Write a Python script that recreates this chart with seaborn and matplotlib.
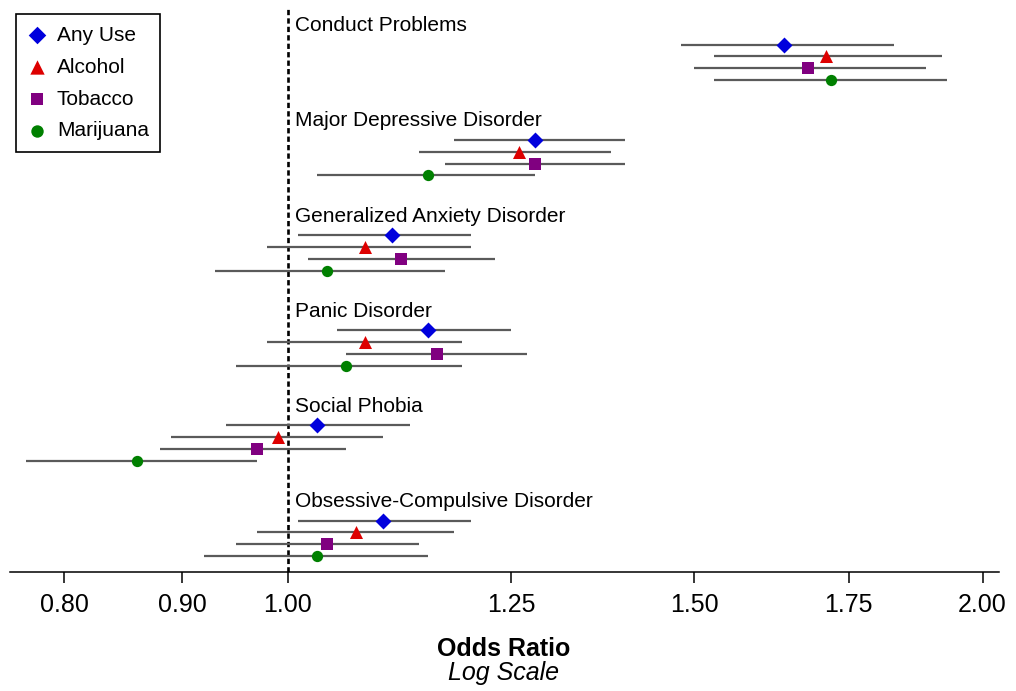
import pandas as pd
import numpy as np
import matplotlib
matplotlib.use('Agg')
import matplotlib.pyplot as plt
import seaborn as sns
from matplotlib.ticker import FixedLocator, FixedFormatter, NullLocator

# --------- Datos
disorders = ['Conduct Problems', 'Major Depressive Disorder', 'Generalized Anxiety Disorder',
             'Panic Disorder', 'Social Phobia', 'Obsessive-Compulsive Disorder']
substances = ['Any Use', 'Alcohol', 'Tobacco', 'Marijuana']

# odds ratio + IC 95% (mismo orden que disorders)
or_any = [1.64, 1.28, 1.11, 1.15, 1.03, 1.10]
lo_any = [1.48, 1.18, 1.01, 1.05, 0.94, 1.01]
hi_any = [1.83, 1.40, 1.20, 1.25, 1.13, 1.20]

or_alc = [1.71, 1.26, 1.08, 1.08, 0.99, 1.07]
lo_alc = [1.53, 1.14, 0.98, 0.98, 0.89, 0.97]
hi_alc = [1.92, 1.38, 1.20, 1.19, 1.10, 1.18]

or_tob = [1.68, 1.28, 1.12, 1.16, 0.97, 1.04]
lo_tob = [1.50, 1.17, 1.02, 1.06, 0.88, 0.95]
hi_tob = [1.89, 1.40, 1.23, 1.27, 1.06, 1.14]

or_mar = [1.72, 1.15, 1.04, 1.06, 0.86, 1.03]
lo_mar = [1.53, 1.03, 0.93, 0.95, 0.77, 0.92]
hi_mar = [1.93, 1.28, 1.17, 1.19, 0.97, 1.15]

tick_vals = [0.80, 0.90, 1.00, 1.25, 1.50, 1.75, 2.00]
tick_labels = ['0.80', '0.90', '1.00', '1.25', '1.50', '1.75', '2.00']

# estilo por sustancia
colors = {'Any Use': '#0000dd', 'Alcohol': '#dd0000', 'Tobacco': '#800080', 'Marijuana': '#008000'}
markers = {'Any Use': 'D', 'Alcohol': '^', 'Tobacco': 's', 'Marijuana': 'o'}
sizes = {'Any Use': 66, 'Alcohol': 88, 'Tobacco': 64, 'Marijuana': 66}

# tabla larga
series = {'Any Use': (or_any, lo_any, hi_any), 'Alcohol': (or_alc, lo_alc, hi_alc),
          'Tobacco': (or_tob, lo_tob, hi_tob), 'Marijuana': (or_mar, lo_mar, hi_mar)}
filas = []
for k, sub in enumerate(substances):
    o, l, h = series[sub]
    for g, dis in enumerate(disorders):
        filas.append({'disorder': dis, 'substance': sub, 'OR': o[g], 'lo': l[g], 'hi': h[g],
                      'y': 8 * g + k})
df = pd.DataFrame(filas)

# --------- Grafico
sns.set_style('white')
plt.rcParams['font.family'] = ['Liberation Sans', 'DejaVu Sans']
plt.rcParams['text.color'] = 'black'
plt.rcParams['xtick.color'] = 'black'
plt.rcParams['xtick.labelcolor'] = 'black'

fig = plt.figure(figsize=(10.16, 6.91), dpi=100)
ax = fig.add_axes([10 / 1016, (691 - 571.7) / 691, 989 / 1016, (571.7 - 8) / 691])

ax.set_xscale('log')
ax.axvline(1.0, color='black', lw=1.9, ls=(0, (2.0, 1.2)), zorder=1)

ax.hlines(df['y'], df['lo'], df['hi'], color='#5a5a5a', lw=1.6, zorder=2)

for sub in substances:
    d = df[df['substance'] == sub]
    sns.scatterplot(data=d, x='OR', y='y', marker=markers[sub], color=colors[sub],
                    s=sizes[sub], linewidth=0, label=sub, ax=ax, zorder=3)

for g, dis in enumerate(disorders):
    ax.annotate(dis, xy=(1.0, 8 * g - 1.12), xytext=(5, 0), textcoords='offset points',
                ha='left', va='baseline', fontsize=15, color='black')

ax.set_xlim(0.758, 2.033)
ax.set_ylim(44.3, -3.07)

ax.xaxis.set_major_locator(FixedLocator(tick_vals))
ax.xaxis.set_major_formatter(FixedFormatter(tick_labels))
ax.xaxis.set_minor_locator(NullLocator())
ax.tick_params(axis='x', which='major', direction='out', length=8, width=1.1,
               labelsize=18, pad=7, bottom=True, color='black', labelcolor='black')
ax.set_yticks([])
ax.set_xlabel('')
ax.set_ylabel('')

for s in ['left', 'right', 'top']:
    ax.spines[s].set_visible(False)
ax.spines['bottom'].set_color('black')
ax.spines['bottom'].set_linewidth(1.1)

leg = ax.legend(loc='upper left', fontsize=15, frameon=True, fancybox=False,
                edgecolor='black', framealpha=1, borderaxespad=0.3, borderpad=0.55,
                labelspacing=0.62, handlelength=0.9, handletextpad=0.5, markerscale=1.1)
leg.get_frame().set_linewidth(1.2)
for t in leg.get_texts():
    t.set_color('black')

fig.text(504 / 1016, (691 - 655.5) / 691, 'Odds Ratio', ha='center', va='baseline',
         fontsize=18, fontweight='bold', color='black')
fig.text(504 / 1016, (691 - 680) / 691, 'Log Scale', ha='center', va='baseline',
         fontsize=18, style='italic', color='black')

plt.savefig('out.png', dpi=100)
